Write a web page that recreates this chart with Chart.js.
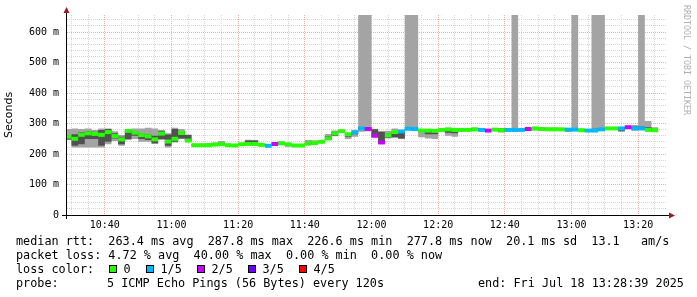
<!DOCTYPE html>
<html>
<head>
<meta charset="utf-8">
<script src="https://cdn.jsdelivr.net/npm/chart.js@4.4.1/dist/chart.umd.min.js"></script>
<style>
body { margin: 0; background: #fff; }
#wrap { position: relative; width: 697px; height: 297px; overflow: hidden; background: #fff; }
#chart { position: absolute; left: 0; top: 0; }
.leg { position: absolute; left: 16px; font: 11.8px "DejaVu Sans Mono", monospace; color: #000; white-space: pre; line-height: 14px; }
.box { position: absolute; width: 8px; height: 8px; box-sizing: border-box; border: 1px solid #000; }
#mark { position: absolute; left: 682px; top: 5px; font: 8.3px "DejaVu Sans Mono", monospace; color: #b0b0b0;
        writing-mode: vertical-rl; white-space: pre; line-height: 10px; }
</style>
</head>
<body>
<div id="wrap">
  <canvas id="chart" width="697" height="297"></canvas>
  <div id="mark">RRDTOOL / TOBI OETIKER</div>
  <div class="leg" style="top:234px">median rtt:  263.4 ms avg  287.8 ms max  226.6 ms min  277.8 ms now  20.1 ms sd  13.1   am/s</div>
  <div class="leg" style="top:248px">packet loss: 4.72 % avg  40.00 % max  0.00 % min  0.00 % now</div>
  <div class="leg" style="top:262px">loss color:</div>
  <div id="lossLegend"></div>
  <div class="leg" style="top:276px">probe:</div>
  <div class="leg" style="top:276px;left:107px">5 ICMP Echo Pings (56 Bytes) every 120s</div>
  <div class="leg" style="top:276px;left:478px">end: Fri Jul 18 13:28:39 2025</div>
</div>
<script>
// Zeitachse in Minuten seit Mitternacht, 2-min Schritte ab 10:28
const startMin = 628;
const stepMin = 2;
const viewMin = 628.65;   // 10:28:39
const viewMax = 808.65;   // 13:28:39

// Median RTT je Schritt (ms)
const median = [
  257, 250, 263, 268, 266, 263, 272, 259, 248, 276,
  270, 262, 258, 248, 267, 241, 250, 269, 244, 229,
  229, 229, 231, 232, 229, 228, 232, 233, 233, 230,
  227, 233, 235, 232, 228, 228, 235, 236, 240, 251,
  268, 275, 265, 271, 284, 282, 260, 238, 262, 272,
  274, 283, 282, 277, 277, 276, 279, 281, 279, 279,
  279, 281, 279, 277, 280, 278, 279, 279, 279, 282,
  284, 282, 281, 281, 281, 280, 280, 278, 277, 277,
  281, 284, 284, 284, 288, 284, 284, 279, 278
];

// verlorene Pings (von 5) je Schritt
const loss = [
  0, 0, 0, 0, 0, 0, 0, 0, 0, 0,
  0, 0, 0, 0, 0, 0, 0, 0, 0, 0,
  0, 0, 0, 0, 0, 0, 0, 0, 0, 0,
  1, 2, 0, 0, 0, 0, 0, 0, 0, 0,
  0, 0, 0, 1, 1, 2, 2, 2, 0, 0,
  1, 1, 1, 0, 0, 0, 0, 0, 0, 0,
  0, 0, 1, 2, 0, 0, 1, 1, 1, 2,
  0, 0, 0, 0, 0, 1, 1, 0, 1, 1,
  1, 0, 0, 1, 2, 1, 1, 0, 0
];

// Smoke: sortierte Pings (p1 min, p2, p4, p5 max)
const p1 = [
  246, 221, 221, 221, 221, 221, 232, 243, 227, 246,
  249, 240, 240, 233, 246, 221, 238, 249, 240, 226,
  227, 227, 229, 229, 226, 225, 228, 230, 230, 228,
  225, 231, 231, 224, 226, 226, 228, 232, 236, 246,
  258, 272, 249, 257, 273, 275, 255, 233, 251, 253,
  249, 278, 278, 255, 251, 249, 274, 260, 257, 276,
  276, 277, 276, 275, 277, 271, 276, 275, 276, 280,
  277, 278, 278, 279, 279, 272, 276, 274, 274, 273,
  276, 281, 281, 272, 285, 276, 278, 276, 273
];
const p2 = [
  248, 227, 232, 249, 249, 227, 240, 251, 232, 249,
  260, 249, 246, 235, 249, 227, 240, 251, 243, 227,
  228, 228, 230, 231, 227, 226, 229, 231, 231, 229,
  226, 232, 232, 226, 227, 227, 232, 234, 238, 247,
  260, 273, 257, 265, 280, 279, 257, 235, 254, 255,
  251, 280, 280, 272, 265, 265, 276, 270, 268, 277,
  277, 278, 277, 276, 278, 274, 277, 277, 277, 281,
  280, 279, 279, 280, 280, 276, 278, 275, 275, 275,
  278, 282, 282, 276, 286, 279, 280, 277, 275
];
const p4 = [
  262, 265, 271, 275, 273, 279, 282, 268, 257, 279,
  275, 268, 264, 260, 276, 264, 282, 275, 262, 231,
  230, 231, 233, 236, 230, 229, 234, 244, 244, 232,
  228, 234, 238, 234, 230, 230, 240, 238, 242, 258,
  273, 277, 268, 273, 288, 286, 281, 273, 268, 271,
  272, 286, 285, 279, 278, 277, 281, 283, 281, 281,
  283, 285, 284, 279, 282, 284, 281, 284, 281, 284,
  286, 285, 284, 285, 283, 283, 283, 282, 280, 283,
  285, 286, 286, 287, 290, 290, 290, 288, 282
];
const p5 = [
  282, 284, 282, 284, 279, 284, 284, 275, 262, 282,
  284, 284, 286, 284, 278, 268, 286, 282, 264, 232,
  231, 236, 238, 243, 231, 230, 235, 247, 246, 233,
  229, 235, 241, 235, 231, 231, 246, 245, 244, 266,
  277, 278, 268, 279, 720, 720, 283, 275, 276, 284,
  276, 720, 720, 280, 279, 279, 282, 284, 282, 282,
  285, 286, 285, 280, 283, 285, 282, 720, 282, 285,
  287, 286, 287, 287, 284, 285, 720, 283, 281, 720,
  720, 287, 287, 288, 291, 295, 720, 308, 288
];

const lossColors = ['#26ff00', '#00b8ff', '#c800ff', '#6a00ff', '#ff0000'];
const lossLabels = ['0', '1/5', '2/5', '3/5', '4/5'];

// Legende der Verlustfarben
const lossLegend = document.getElementById('lossLegend');
const boxX = [108.5, 145.5, 196.5, 247.5, 298.5];
lossLabels.forEach((lbl, i) => {
    const b = document.createElement('div');
    b.className = 'box';
    b.style.left = boxX[i] + 'px';
    b.style.top = '265px';
    b.style.background = lossColors[i];
    lossLegend.appendChild(b);
    const t = document.createElement('div');
    t.className = 'leg';
    t.style.top = '262px';
    t.style.left = (boxX[i] + 15) + 'px';
    t.textContent = lbl;
    lossLegend.appendChild(t);
});

function stepSeries(vals) {
    const pts = vals.map((v, i) => ({ x: startMin + i * stepMin, y: v }));
    pts.push({ x: startMin + vals.length * stepMin, y: vals[vals.length - 1] });
    return pts;
}

// Median als einzelne waagrechte Stücke
const medianPts = [];
median.forEach((v, i) => {
    const t0 = startMin + i * stepMin;
    medianPts.push({ x: t0, y: v }, { x: t0 + stepMin, y: v }, { x: t0 + stepMin, y: null });
});

function hhmm(m) {
    const h = Math.floor(m / 60);
    const mm = Math.round(m % 60);
    return String(h).padStart(2, '0') + ':' + String(mm).padStart(2, '0');
}

const monoTick = { family: '"DejaVu Sans Mono", monospace', size: 10 };

// Achsen mit Pfeilen wie bei rrdtool
const axisArrows = {
    id: 'axisArrows',
    afterDraw(chart) {
        const { ctx, chartArea: a } = chart;
        const xb = Math.round(a.bottom) + 0.5;
        const yl = Math.round(a.left) - 0.5;
        ctx.save();
        ctx.strokeStyle = '#000';
        ctx.lineWidth = 1;
        ctx.beginPath();
        ctx.moveTo(a.left - 5, xb);
        ctx.lineTo(a.right + 3, xb);
        ctx.moveTo(yl, a.bottom + 4);
        ctx.lineTo(yl, a.top - 3);
        ctx.stroke();
        ctx.fillStyle = '#9b1c1c';
        ctx.beginPath();
        ctx.moveTo(a.right + 8, xb);
        ctx.lineTo(a.right + 2, xb - 3);
        ctx.lineTo(a.right + 2, xb + 3);
        ctx.closePath();
        ctx.fill();
        ctx.beginPath();
        ctx.moveTo(yl, a.top - 8);
        ctx.lineTo(yl - 3, a.top - 2);
        ctx.lineTo(yl + 3, a.top - 2);
        ctx.closePath();
        ctx.fill();
        ctx.restore();
    }
};

const ctx = document.getElementById('chart').getContext('2d');
const chart = new Chart(ctx, {
    type: 'line',
    data: {
        datasets: [
            {
                label: 'median',
                data: medianPts,
                borderWidth: 4,
                borderCapStyle: 'butt',
                borderColor: lossColors[0],
                spanGaps: false,
                pointRadius: 0,
                order: 0,
                segment: {
                    borderColor: c => lossColors[loss[Math.floor(c.p0DataIndex / 3)]]
                }
            },
            {
                label: 'p4',
                data: stepSeries(p4),
                stepped: true,
                borderWidth: 0,
                borderColor: 'rgba(0,0,0,0)',
                backgroundColor: '#515151',
                pointRadius: 0,
                fill: '+1',
                order: 1
            },
            {
                label: 'p2',
                data: stepSeries(p2),
                stepped: true,
                borderWidth: 0,
                borderColor: 'rgba(0,0,0,0)',
                pointRadius: 0,
                fill: false,
                order: 1
            },
            {
                label: 'p5',
                data: stepSeries(p5),
                stepped: true,
                borderWidth: 0,
                borderColor: 'rgba(0,0,0,0)',
                backgroundColor: '#a4a4a4',
                pointRadius: 0,
                fill: '+1',
                order: 2
            },
            {
                label: 'p1',
                data: stepSeries(p1),
                stepped: true,
                borderWidth: 0,
                borderColor: 'rgba(0,0,0,0)',
                pointRadius: 0,
                fill: false,
                order: 2
            }
        ]
    },
    options: {
        responsive: false,
        devicePixelRatio: 1,
        animation: false,
        layout: { padding: { left: 0, top: 15, right: 30, bottom: 0 } },
        plugins: {
            legend: { display: false },
            tooltip: { enabled: false }
        },
        scales: {
            x: {
                type: 'linear',
                min: viewMin,
                max: viewMax,
                afterBuildTicks: s => {
                    s.ticks = [];
                    for (let m = 630; m <= 805; m += 5) s.ticks.push({ value: m });
                },
                afterFit: s => { s.height = 82; },
                ticks: {
                    autoSkip: false,
                    maxRotation: 0,
                    padding: 4,
                    color: '#000',
                    font: monoTick,
                    callback: v => (v % 20 === 0 ? hhmm(v) : '')
                },
                grid: {
                    drawTicks: false,
                    lineWidth: 1,
                    color: c => (c.tick && c.tick.value % 20 === 0 ? 'rgba(225,90,90,0.5)' : '#d6d6d6')
                },
                border: { display: false, dash: [1, 1] }
            },
            y: {
                min: 0,
                max: 656,
                afterBuildTicks: s => {
                    s.ticks = [];
                    for (let v = 0; v <= 640; v += 20) s.ticks.push({ value: v });
                },
                afterFit: s => { s.width = 67; },
                ticks: {
                    autoSkip: false,
                    padding: 8,
                    color: '#000',
                    font: monoTick,
                    callback: v => (v === 0 ? '0' : (v % 100 === 0 ? v + ' m' : ''))
                },
                grid: {
                    drawTicks: false,
                    lineWidth: 1,
                    color: c => (c.tick && c.tick.value % 100 === 0 ? 'rgba(225,90,90,0.5)' : '#d6d6d6')
                },
                border: { display: false, dash: [1, 1] },
                title: {
                    display: true,
                    text: 'Seconds',
                    color: '#000',
                    padding: { top: 3, bottom: 0 },
                    font: { family: '"DejaVu Sans", sans-serif', size: 11 }
                }
            }
        }
    },
    plugins: [axisArrows]
});
</script>
</body>
</html>
